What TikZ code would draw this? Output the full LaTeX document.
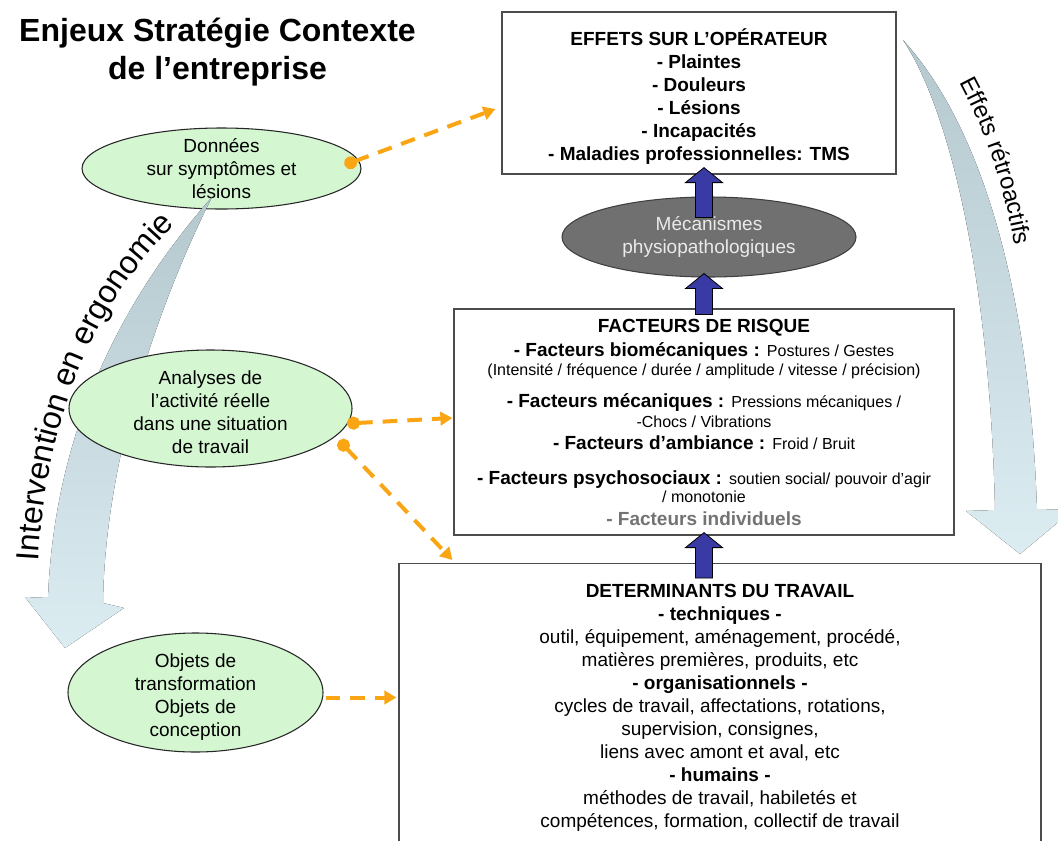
\documentclass[tikz,border=0pt]{standalone}
\usepackage{fontspec}
\setmainfont{Liberation Sans}
\usetikzlibrary{shapes.geometric,arrows.meta,calc,decorations.text}

\definecolor{ovalgreen}{RGB}{212,247,210}
\definecolor{mecgrey}{RGB}{112,112,112}
\definecolor{mectext}{RGB}{234,234,234}
\definecolor{blockblue}{RGB}{58,58,165}
\definecolor{linkorange}{RGB}{250,166,20}
\definecolor{swooshdark}{RGB}{180,200,206}
\definecolor{swooshlight}{RGB}{220,237,242}
\definecolor{indivgrey}{RGB}{115,115,115}

\newcommand{\bodyfont}{\fontsize{14.25}{17.25}\selectfont}
\newcommand{\smallfont}{\fontsize{12}{14}\selectfont}
\newcommand{\upblock}[2]{%
  \filldraw[upblk] let \p1=(#1), \p2=(#2) in
    (\x1,\y1) -- (\x1+13.9pt,\y1-11.25pt) -- (\x1+6.4pt,\y1-11.25pt)
    -- (\x1+6.4pt,\y2) -- (\x1-6.4pt,\y2) -- (\x1-6.4pt,\y1-11.25pt)
    -- (\x1-13.9pt,\y1-11.25pt) -- cycle;}

\begin{document}
\begin{tikzpicture}[x=0.75pt,y=-0.75pt,
  box/.style={draw=black!70, line width=0.9pt, fill=white, align=center, inner sep=0pt},
  oval/.style={ellipse, draw=black!85, line width=0.8pt, fill=ovalgreen, align=center,
    inner xsep=0pt, inner ysep=-9pt, font=\bodyfont},
  link/.style={draw=linkorange, line width=3pt, dash pattern=on 11pt off 7.5pt,
    -{Triangle[length=9pt,width=10pt]}},
  linkdot/.style={link, {Circle[length=9.75pt]}-{Triangle[length=9pt,width=10pt]}},
  upblk/.style={fill=blockblue, draw=black, line width=0.6pt, line join=miter},
  swoosh/.style={top color=swooshdark, bottom color=swooshlight, draw=none},
  bend text/.style={decorate, decoration={text along path, text align=center, text={#1}}}]

\useasboundingbox (0,0) rectangle (1058,840);
\fill[white] (0,0) rectangle (1058,840);
\clip (0,0) rectangle (1058,840);

\fill[swoosh] (903,40) .. controls (950,110) and (990,280) .. (995,510)
  -- (966,511) -- (1020,554) -- (1074,509) -- (1037,510)
  .. controls (1030,300) and (985,130) .. (903,40) -- cycle;

\node[align=center, font=\bfseries\fontsize{24}{28.5}\selectfont] (title) at (217.5,52.5)
  {Enjeux Stratégie Contexte\\de l’entreprise};

\node[box, minimum width=295.5pt, minimum height=121.5pt, font=\bfseries\bodyfont] (eff) at (699,93)
  {\rule{0pt}{18pt}EFFETS SUR L’OPÉRATEUR\\- Plaintes\\- Douleurs\\- Lésions\\- Incapacités\\- Maladies professionnelles: TMS};

\node[box, minimum width=375pt, minimum height=169.5pt, font=\bodyfont] (fac) at (704,422)
  {\textbf{FACTEURS DE RISQUE}\\[0.75pt]
   \textbf{- Facteurs biomécaniques :} {\smallfont Postures / Gestes}\\[-3pt]
   {\smallfont (Intensité / fréquence / durée / amplitude / vitesse / précision)}\\[6.75pt]
   \textbf{- Facteurs mécaniques :} {\smallfont Pressions mécaniques /}\\[-2.25pt]
   {\smallfont -Chocs / Vibrations}\\[-0.75pt]
   \textbf{- Facteurs d’ambiance :} {\smallfont Froid / Bruit}\\[9pt]
   \textbf{- Facteurs psychosociaux :} {\smallfont soutien social/ pouvoir d’agir}\\[-3.75pt]
   {\smallfont / monotonie}\\
   {\bfseries\color{indivgrey}- Facteurs individuels}};

\node[box, anchor=north, minimum width=481.5pt, minimum height=216.3pt, font=\bodyfont] (det) at (720,563)
  {\textbf{DETERMINANTS DU TRAVAIL}\\
   \textbf{- techniques -}\\
   outil, équipement, aménagement, procédé,\\
   matières premières, produits, etc\\
   \textbf{- organisationnels -}\\
   cycles de travail, affectations, rotations,\\
   supervision, consignes,\\
   liens avec amont et aval, etc\\
   \textbf{- humains -}\\
   méthodes de travail, habiletés et\\
   compétences, formation, collectif de travail};

\node[oval, minimum width=209.25pt, minimum height=60.75pt] (don) at (221.5,168.5)
  {Données\\sur symptômes et\\lésions};

\fill[swoosh] (212,197) .. controls (130,290) and (55,420) .. (48,598)
  -- (25,597) -- (65,648) -- (124,608) -- (103,603)
  .. controls (105,450) and (165,290) .. (212,197) -- cycle;

\node[oval, minimum width=212.25pt, minimum height=87.75pt] (ana) at (210.5,408.5)
  {\rule{0pt}{16.5pt}Analyses de\\l’activité réelle\\dans une situation\\de travail};
\node[oval, minimum width=191.25pt, minimum height=89.25pt] (obj) at (195.5,692.5)
  {\rule{0pt}{17pt}Objets de\\transformation\\Objets de\\conception};
\node[oval, fill=mecgrey, draw=black!75, text=mectext, minimum width=220.5pt, minimum height=60pt] (mec) at (709,237)
  {Mécanismes\\physiopathologiques};

\upblock{$(eff.south -| fac.north)+(0,-7)$}{$(mec.north -| fac.north)+(0,21)$}
\upblock{$(mec.south -| fac.north)+(0,-4)$}{$(fac.north)+(0,6)$}
\upblock{$(fac.south)+(0,-3)$}{$(fac.south |- det.north)+(0,15)$}

\draw[linkdot] ($(don.east)+(-17,-3.5)$) -- ($(eff.west)+(-6,16)$);
\draw[linkdot] ($(ana.east)+(-5.5,15)$) -- ($(fac.west)+(-1,-4)$);
\draw[linkdot] ($(ana.east)+(-13.5,32)$) -- ($(det.north west)+(54,-3)$);
\draw[link] ($(obj.east)+(2,5)$) -- ($(obj.east -| det.west)+(-2,5)$);

\path[bend text={|\fontsize{24}{24}\selectfont|Intervention en ergonomie}]
  (38,565) .. controls (46,420) and (92,305) .. (178,222);
\path[bend text={|\fontsize{18}{18}\selectfont|Effets rétroactifs}]
  (950,65) .. controls (982,120) and (1005,180) .. (1018,265);
\end{tikzpicture}
\end{document}
